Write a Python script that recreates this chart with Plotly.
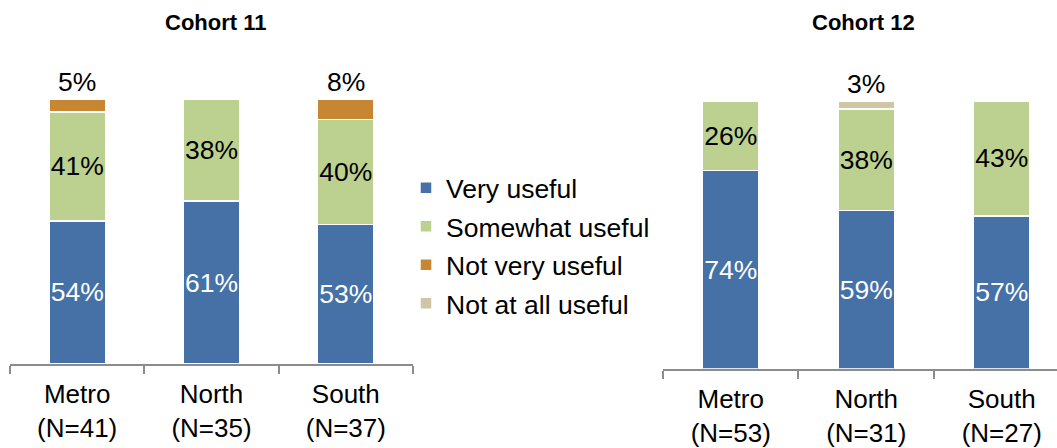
import plotly.graph_objects as go

# ---- data ----
categories_11 = ["Metro<br>(N=41)", "North<br>(N=35)", "South<br>(N=37)"]
categories_12 = ["Metro<br>(N=53)", "North<br>(N=31)", "South<br>(N=27)"]
series_names = ["Very useful", "Somewhat useful", "Not very useful", "Not at all useful"]

very_11 = [54, 61.4, 52.6]
somewhat_11 = [41, 38.4, 39.6]
notvery_11 = [5, 0, 7.8]
notatall_11 = [0, 0, 0]

very_12 = [74, 59, 57]
somewhat_12 = [26, 38, 43]
notvery_12 = [0, 0, 0]
notatall_12 = [0, 3, 0]

colors = ["#4571A7", "#BCD190", "#C78631", "#CEC6A5"]
text_colors = ["white", "black", "black", "black"]

W, H = 1057, 448
FONT = "Liberation Sans, Arial, sans-serif"

fig = go.Figure()
annotations = []

def add_panel(cats, series, xa, ya, legend):
    for i, (name, vals) in enumerate(zip(series_names, series)):
        inside = i < 2
        fig.add_trace(go.Bar(
            x=cats, y=vals, name=name, xaxis=xa, yaxis=ya,
            marker=dict(color=colors[i], line=dict(color="white", width=1.5)),
            width=0.42,
            texttemplate="%{y:.0f}%" if inside else None,
            textposition="inside" if inside else "none",
            insidetextanchor="middle",
            textangle=0,
            constraintext="none",
            textfont=dict(family=FONT, size=26.5, color=text_colors[i]),
            showlegend=legend, legendgroup=name,
            hoverinfo="skip",
        ))
    # small segments labelled above the bar
    for j, c in enumerate(cats):
        total = sum(s[j] for s in series)
        small = [s[j] for s in series[2:] if s[j] > 0]
        if small:
            annotations.append(dict(
                x=c, y=total, xref=xa, yref=ya, text=f"{small[0]:.0f}%",
                showarrow=False, xanchor="center", yanchor="bottom", yshift=0,
                font=dict(family=FONT, size=26.5, color="black"),
            ))

add_panel(categories_11, [very_11, somewhat_11, notvery_11, notatall_11], "x", "y", True)
add_panel(categories_12, [very_12, somewhat_12, notvery_12, notatall_12], "x2", "y2", False)

xcommon = dict(
    type="category", showline=True, linecolor="#8c8c8c", linewidth=2,
    ticks="outside", ticklen=8, tickwidth=2, tickcolor="#8c8c8c",
    tickson="boundaries", showgrid=False, zeroline=False,
    ticklabelstandoff=6,
    tickfont=dict(family=FONT, size=26, color="black"),
)
ycommon = dict(visible=False, range=[0, 100], showgrid=False, zeroline=False)

TITLE_FONT = dict(family="Liberation Sans, Arial", size=22, color="black")
annotations += [
    dict(text="<b>Cohort 11</b>", x=215 / W, y=(H - 23) / H, xref="paper", yref="paper",
         showarrow=False, xanchor="center", yanchor="middle", font=TITLE_FONT),
    dict(text="<b>Cohort 12</b>", x=863 / W, y=(H - 23) / H, xref="paper", yref="paper",
         showarrow=False, xanchor="center", yanchor="middle", font=TITLE_FONT),
]

fig.update_layout(
    width=W, height=H,
    margin=dict(l=0, r=0, t=0, b=0),
    paper_bgcolor="white", plot_bgcolor="white",
    barmode="stack",
    xaxis=dict(xcommon, domain=[10 / W, 413 / W], range=[-0.5, 2.5], anchor="y"),
    yaxis=dict(ycommon, domain=[(H - 368) / H, (H - 100) / H], anchor="x"),
    xaxis2=dict(xcommon, domain=[663 / W, 1], range=[-0.5, 2.408], anchor="y2"),
    yaxis2=dict(ycommon, domain=[(H - 373) / H, (H - 102) / H], anchor="x2"),
    legend=dict(
        x=406 / W, y=(H - 166) / H, xanchor="left", yanchor="top",
        traceorder="grouped", tracegroupgap=1,
        font=dict(family=FONT, size=26.5, color="black"),
        bgcolor="rgba(0,0,0,0)", itemwidth=30,
    ),
    annotations=annotations,
)

fig.write_html("out.html")
